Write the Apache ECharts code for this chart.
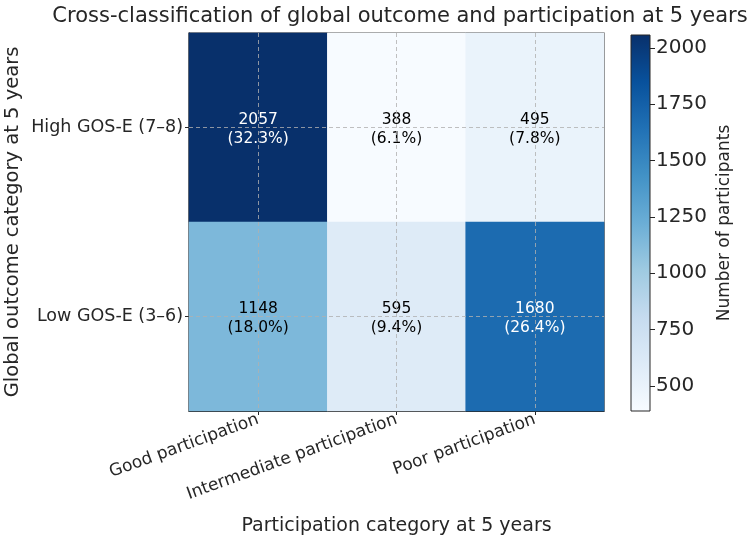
<!DOCTYPE html>
<html>
<head>
<meta charset="utf-8">
<script src="https://cdn.jsdelivr.net/npm/echarts@6/dist/echarts.min.js"></script>
<style>
  html, body { margin: 0; padding: 0; background: #fff; }
  #chart { width: 748px; height: 550px; }
</style>
</head>
<body>
<div id="chart"></div>
<script>
// categories
const participation = ['Good participation', 'Intermediate participation', 'Poor participation'];
const outcome = ['High GOS-E (7–8)', 'Low GOS-E (3–6)'];

// counts per outcome row
const highRow = [2057, 388, 495];
const lowRow = [1148, 595, 1680];

// colorbar ticks
const cbarTicks = [500, 750, 1000, 1250, 1500, 1750, 2000];

// matplotlib "Blues"
const blues = ['#f7fbff', '#deebf7', '#c6dbef', '#9ecae1', '#6baed6', '#4292c6', '#2171b5', '#08519c', '#08306b'];

const rows = [highRow, lowRow];
const allValues = highRow.concat(lowRow);
const total = allValues.reduce((a, b) => a + b, 0);
const vMin = Math.min(...allValues);
const vMax = Math.max(...allValues);

const cells = [];
rows.forEach((row, yi) => {
  row.forEach((v, xi) => cells.push([xi, yi, v]));
});

const FONT = 'DejaVu Sans';
const INK = '#262626';
const chart = echarts.init(document.getElementById('chart'), null, { renderer: 'canvas' });

// dashed grid through the cell centres, drawn above the cells
const gridLine = { show: true, showMinLine: false, showMaxLine: false, lineStyle: { color: '#b0b0b0', type: [4, 3], width: 0.8 } };
const plotBox = { left: 189, right: 144, top: 33, bottom: 139, outerBoundsMode: 'none', containLabel: false };

chart.setOption({
  backgroundColor: '#fff',
  animation: false,
  textStyle: { fontFamily: FONT },
  title: {
    text: 'Cross-classification of global outcome and participation at 5 years',
    left: 395,
    textAlign: 'center',
    top: 1,
    textStyle: { fontFamily: FONT, fontSize: 21, fontWeight: 'normal', color: INK }
  },
  grid: [
    Object.assign({ show: true, borderColor: INK, borderWidth: 1.2, backgroundColor: 'transparent' }, plotBox),
    {
      left: 631, width: 19, top: 35, bottom: 139, outerBoundsMode: 'none', containLabel: false,
      show: true, borderColor: INK, borderWidth: 1,
      backgroundColor: new echarts.graphic.LinearGradient(0, 1, 0, 0,
        blues.map((c, i) => ({ offset: i / (blues.length - 1), color: c })))
    },
    Object.assign({ show: false }, plotBox)
  ],
  xAxis: [
    {
      type: 'category',
      gridIndex: 0,
      data: participation,
      axisLine: { show: true, lineStyle: { color: INK, width: 1.2 } },
      axisTick: { show: true, alignWithLabel: true, length: 4, lineStyle: { color: INK } },
      axisLabel: { interval: 0, rotate: 20, fontSize: 17, color: INK, margin: 8, fontFamily: FONT },
      splitLine: { show: false },
      name: 'Participation category at 5 years',
      nameLocation: 'middle',
      nameGap: 106,
      nameTextStyle: { fontSize: 19, color: INK, fontFamily: FONT }
    },
    {
      type: 'category',
      gridIndex: 1,
      data: ['cbar'],
      show: false
    },
    {
      type: 'value',
      gridIndex: 2,
      min: -0.5,
      max: participation.length - 0.5,
      minInterval: 1,
      maxInterval: 1,
      z: 5,
      axisLine: { show: false },
      axisTick: { show: false },
      axisLabel: { show: false },
      splitLine: gridLine
    }
  ],
  yAxis: [
    {
      type: 'category',
      gridIndex: 0,
      data: outcome,
      inverse: true,
      axisLine: { show: true, lineStyle: { color: INK, width: 1.2 } },
      axisTick: { show: true, alignWithLabel: true, length: 4, lineStyle: { color: INK } },
      axisLabel: { fontSize: 17.5, color: INK, margin: 6, fontFamily: FONT },
      splitLine: { show: false },
      name: 'Global outcome category at 5 years',
      nameLocation: 'middle',
      nameGap: 166,
      nameMoveOverlap: false,
      nameTextStyle: { fontSize: 19.5, color: INK, fontFamily: FONT }
    },
    {
      type: 'value',
      gridIndex: 1,
      position: 'right',
      min: vMin,
      max: vMax,
      minInterval: cbarTicks[1] - cbarTicks[0],
      maxInterval: cbarTicks[1] - cbarTicks[0],
      axisLine: { show: false },
      axisTick: { show: true, length: 5, lineStyle: { color: INK } },
      axisLabel: {
        fontSize: 20, color: INK, margin: 6, fontFamily: FONT,
        showMinLabel: false, showMaxLabel: false,
        formatter: v => (cbarTicks.indexOf(v) >= 0 ? String(v) : '')
      },
      splitLine: { show: false },
      name: 'Number of participants',
      nameLocation: 'middle',
      nameRotate: 90,
      nameGap: 66,
      nameTextStyle: { fontSize: 17, color: INK, fontFamily: FONT }
    },
    {
      type: 'value',
      gridIndex: 2,
      min: -0.5,
      max: outcome.length - 0.5,
      minInterval: 1,
      maxInterval: 1,
      z: 5,
      axisLine: { show: false },
      axisTick: { show: false },
      axisLabel: { show: false },
      splitLine: gridLine
    }
  ],
  visualMap: {
    show: false,
    type: 'continuous',
    seriesIndex: 0,
    min: vMin,
    max: vMax,
    inRange: { color: blues }
  },
  series: [
    {
      type: 'heatmap',
      xAxisIndex: 0,
      yAxisIndex: 0,
      data: cells,
      label: {
        show: true,
        fontFamily: FONT,
        offset: [0, 2],
        formatter: p => {
          const v = p.data[2];
          const s = v > (vMin + vMax) / 2 ? 'w' : 'k';
          const pct = (v / total * 100).toFixed(1);
          return '{' + s + '|' + v + '}\n{' + s + '|(' + pct + '%)}';
        },
        rich: {
          w: { color: '#ffffff', fontSize: 15.5, lineHeight: 19, fontFamily: FONT },
          k: { color: '#000000', fontSize: 15.5, lineHeight: 19, fontFamily: FONT }
        }
      },
      itemStyle: { borderWidth: 0 },
      emphasis: { disabled: true }
    }
  ]
});
</script>
</body>
</html>
